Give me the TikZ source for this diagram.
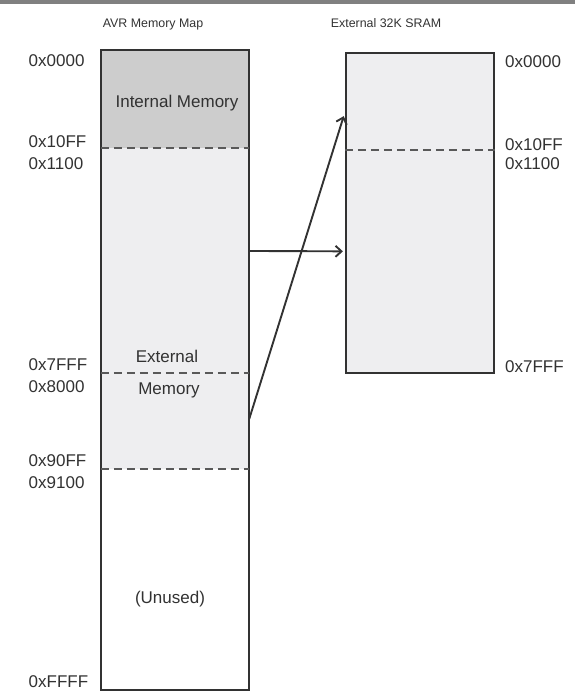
\documentclass[tikz,border=0pt]{standalone}
\usepackage{fontspec}
\setmainfont{Liberation Sans}
\usetikzlibrary{arrows.meta,positioning,calc,fit}
\definecolor{intgray}{RGB}{205,205,205}
\definecolor{extgray}{RGB}{238,238,240}
\definecolor{inkgray}{RGB}{50,50,50}
\definecolor{rulegray}{RGB}{128,128,128}

\begin{document}
\begin{tikzpicture}[x=1pt, y=-1pt, font=\fontsize{17}{20}\selectfont, text=inkgray,
  >={Straight Barb[length=6pt,width=11pt]},
  seg/.style={minimum width=148pt, inner sep=0pt, draw=none},
  addr/.style={anchor=base west, inner sep=0pt},
  txt/.style={anchor=base, inner sep=0pt},
  ttl/.style={anchor=base, inner sep=0pt, font=\fontsize{12.4}{14}\selectfont},
  brd/.style={draw=inkgray, line width=2.2pt},
  cut/.style={draw=black!65, line width=2pt, dash pattern=on 8pt off 5pt},
  arr/.style={->, line width=1.9pt, draw=inkgray}]
\useasboundingbox (0,0) rectangle (575,691);
\fill[rulegray] (0,0) rectangle (575,4);

% ---- titles ----
\node[ttl] (avrttl) at (153,27) {AVR Memory Map};
\node[ttl] (sramttl) at (386,27) {External 32K SRAM};

% ---- AVR memory map ----
\node[seg, fill=intgray, minimum height=98pt] (int) at (175,99) {};
\node[seg, fill=extgray, minimum height=321pt] (ext) at (175,308.5) {};
\node[seg, fill=white, minimum height=221pt] (unused) at (175,579.5) {};
\node[fit=(int)(unused), inner sep=0pt, brd] (avr) {};
\draw[cut] (int.south west) -- (int.south east);
\draw[cut] ($(ext.north west)!0.701!(ext.south west)$) -- ($(ext.north east)!0.701!(ext.south east)$);
\draw[cut] (ext.south west) -- (ext.south east);

\node[txt] (inttxt) at (177,107) {Internal Memory};
\node[txt] (exttxt) at (167,362) {External};
\node[txt] (memtxt) at (169,394) {Memory};
\node[txt] (unusedtxt) at (170,603) {(Unused)};

\node[addr] (a0000) at (28.5,66) {0x0000};
\node[addr] (a10ff) at (28.5,147) {0x10FF};
\node[addr] (a1100) at (28.5,169) {0x1100};
\node[addr] (a7fff) at (28.5,370) {0x7FFF};
\node[addr] (a8000) at (28.5,392) {0x8000};
\node[addr] (a90ff) at (28.5,466) {0x90FF};
\node[addr] (a9100) at (28.5,488) {0x9100};
\node[addr] (affff) at (28.5,687) {0xFFFF};

% ---- external SRAM ----
\node[seg, fill=extgray, minimum height=320pt, brd] (sram) at (420,213) {};
\draw[cut] ($(sram.north west)!0.306!(sram.south west)$) -- ($(sram.north east)!0.306!(sram.south east)$);

\node[addr] (s0000) at (505,67) {0x0000};
\node[addr] (s10ff) at (505,150) {0x10FF};
\node[addr] (s1100) at (505,169) {0x1100};
\node[addr] (s7fff) at (505,372) {0x7FFF};

% ---- mapping arrows ----
\draw[arr, shorten >=2pt] ($(ext.north east)!0.321!(ext.south east)$) -- ($(sram.north west)!0.619!(sram.south west)$);
\draw[arr, shorten >=4pt] ($(ext.north east)!0.844!(ext.south east)$) -- ($(sram.north west)!0.1875!(sram.south west)$);
\end{tikzpicture}
\end{document}
